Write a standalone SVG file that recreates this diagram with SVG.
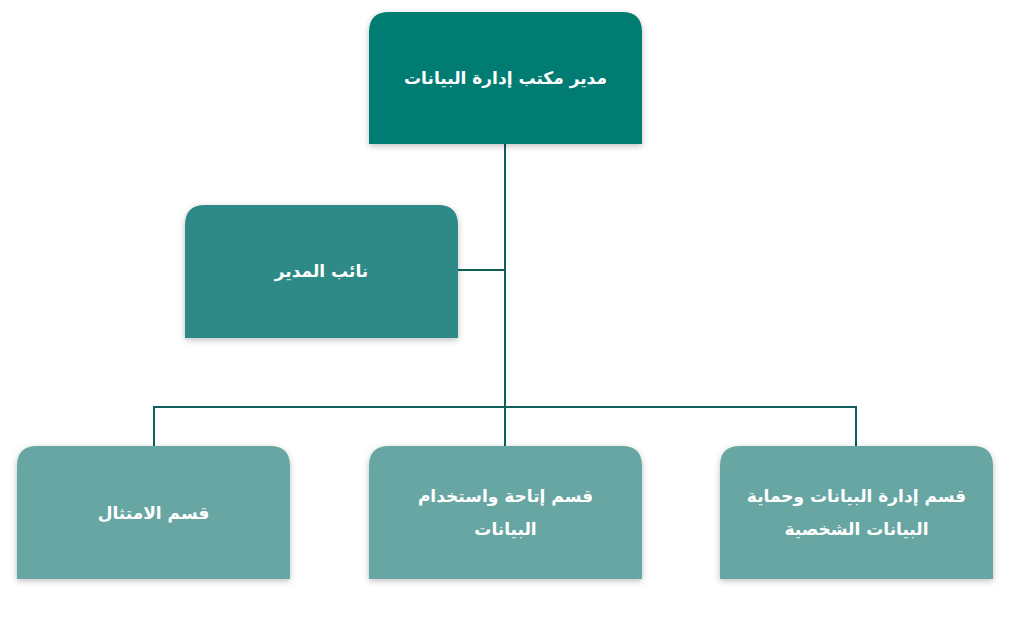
<svg xmlns="http://www.w3.org/2000/svg" width="1011" height="618" viewBox="0 0 1011 618">
<defs>
<filter id="sh" x="-10%" y="-10%" width="120%" height="125%"><feDropShadow dx="0" dy="2" stdDeviation="3" flood-color="#000" flood-opacity="0.25"/></filter>
<style>
.t{font-family:"DejaVu Sans",sans-serif;font-weight:bold;font-size:17px;fill:#fff;text-anchor:middle;direction:rtl}
.c{stroke:#0f5f5a;stroke-width:2;fill:none}
</style>
</defs>
<rect width="1011" height="618" fill="#fff"/>
<g id="connectors">
<path class="c" d="M505 144V407M458 270H505M154 446V407H856V446M505 407V446"/>
</g>
<g id="n1"><path filter="url(#sh)" fill="#067b73" d="M369 144V32Q369 12 389 12H622Q642 12 642 32V144Z"/><text class="t" x="505.5" y="84">مدير مكتب إدارة البيانات</text></g>
<g id="n2"><path filter="url(#sh)" fill="#2e8a86" d="M185 338V225Q185 205 205 205H438Q458 205 458 225V338Z"/><text class="t" x="321.5" y="277">نائب المدير</text></g>
<g id="n3"><path filter="url(#sh)" fill="#68a6a3" d="M17 579V466Q17 446 37 446H270Q290 446 290 466V579Z"/><text class="t" x="153.5" y="519">قسم الامتثال</text></g>
<g id="n4"><path filter="url(#sh)" fill="#68a6a3" d="M369 579V466Q369 446 389 446H622Q642 446 642 466V579Z"/><text class="t" x="505.5" y="502">قسم إتاحة واستخدام</text><text class="t" x="505.5" y="535">البيانات</text></g>
<g id="n5"><path filter="url(#sh)" fill="#68a6a3" d="M720 579V466Q720 446 740 446H973Q993 446 993 466V579Z"/><text class="t" x="856.5" y="502">قسم إدارة البيانات وحماية</text><text class="t" x="856.5" y="535">البيانات الشخصية</text></g>
</svg>
